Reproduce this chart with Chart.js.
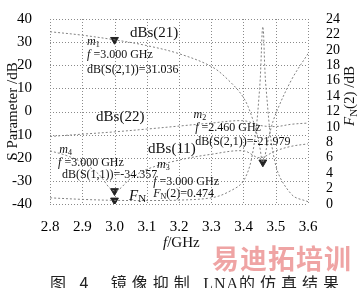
<!DOCTYPE html>
<html>
<head>
<meta charset="utf-8">
<script src="https://cdn.jsdelivr.net/npm/chart.js@4"></script>
<style>
  body { margin: 0; background: #fff; }
  #wrap { position: relative; width: 361px; height: 288px; overflow: hidden; }
  #caption { position: absolute; left: 50px; top: 270px; font: 16px "Noto Sans CJK SC"; letter-spacing: 5px; color: #222; white-space: nowrap; }
  #caption .lat { font-family: "Liberation Serif"; letter-spacing: 1px; }
  #wm { position: absolute; left: 212px; top: 238px; font: bold 27px "Noto Sans CJK SC"; color: rgba(225,90,90,0.55); letter-spacing: 1px; }
</style>
</head>
<body>
<div id="wrap">
  <canvas id="myChart" width="361" height="288"></canvas>
  <div id="wm">易迪拓培训</div>
  <div id="caption">图 4&nbsp; 镜像抑制 <span class="lat">LNA</span>的仿真结果</div>
</div>
<script>
// x ticks / axis ranges
const freqTicks = [2.8, 2.9, 3.0, 3.1, 3.2, 3.3, 3.4, 3.5, 3.6];
const sTicks = [-40, -30, -20, -10, 0, 10, 20, 30, 40];
const fnTicks = [0, 2, 4, 6, 8, 10, 12, 14, 16, 18, 20, 22, 24];

// dBs(21)
const freq21 = [2.8, 2.9, 3.0, 3.1, 3.2, 3.3, 3.35, 3.4, 3.43, 3.45, 3.46, 3.48, 3.5, 3.55, 3.6];
const s21 = [34.5, 33, 31, 28.5, 25, 19.5, 14, 6, -4, -15, -22, -10, -1, 14, 25];
// dBs(22)
const freq22 = [2.8, 2.9, 3.0, 3.1, 3.2, 3.3, 3.4, 3.45, 3.5, 3.55, 3.6];
const s22 = [-10.8, -9.8, -8.8, -7.6, -6.3, -5, -4, -6, -6.5, -5.5, -5];
// dBs(11)
const freq11 = [2.8, 2.85, 2.9, 2.95, 3.0, 3.05, 3.1, 3.2, 3.3, 3.4, 3.45, 3.5, 3.55, 3.6];
const s11 = [-17, -19, -22, -27, -34.357, -29, -25, -21, -18.5, -17, -20, -17, -15, -14];
// FN(2), right axis
const freqFn = [2.8, 2.9, 3.0, 3.1, 3.2, 3.3, 3.35, 3.4, 3.43, 3.45, 3.46, 3.47, 3.5, 3.55, 3.6];
const fn = [0.8, 0.6, 0.474, 0.45, 0.5, 0.8, 1.5, 3, 7, 15, 23, 15, 5, 1.2, 0.3];

// markers
const m1 = { x: 3.0, y: 31.036 };
const m2 = { x: 3.46, y: -21.979 };
const m4 = { x: 3.0, y: -34.357 };
const m3 = { x: 3.0, y: 0.474 };

const serif = '"Liberation Serif", "DejaVu Serif", serif';

function pts(xs, ys) {
  return xs.map((x, i) => ({ x: x, y: ys[i] }));
}

function curve(label, xs, ys, axis) {
  return {
    label: label,
    data: pts(xs, ys),
    yAxisID: axis,
    showLine: true,
    borderColor: '#808080',
    borderWidth: 1,
    borderDash: [2, 2],
    pointRadius: 0,
    tension: 0.35,
    fill: false,
  };
}

function marker(label, p, axis) {
  return {
    label: label,
    data: [p],
    yAxisID: axis,
    showLine: false,
    pointStyle: 'triangle',
    rotation: 180,
    pointRadius: 4.5,
    backgroundColor: '#222',
    borderColor: '#222',
  };
}

// rich text: segments [{t, it, sub}]
function drawRich(ctx, x, y, segs, size) {
  let cx = x;
  segs.forEach((s) => {
    const sz = s.sub ? Math.round(size * 0.7) : size;
    ctx.font = (s.it ? 'italic ' : '') + sz + 'px ' + serif;
    ctx.fillText(s.t, cx, s.sub ? y + size * 0.25 : y);
    cx += ctx.measureText(s.t).width;
  });
}

const labels = [
  { x: 3.048, y: 33.9, size: 15, segs: [{ t: 'dBs(21)' }] },
  { x: 2.915, y: 30.0, size: 12, segs: [{ t: 'm', it: true }, { t: '1', sub: true }] },
  { x: 2.915, y: 24.6, size: 12, segs: [{ t: 'f', it: true }, { t: ' =3.000 GHz' }] },
  { x: 2.915, y: 18.1, size: 12, segs: [{ t: 'dB(S(2,1))=31.036' }] },
  { x: 2.943, y: -2.2, size: 15, segs: [{ t: 'dBs(22)' }] },
  { x: 3.245, y: -1.5, size: 12, segs: [{ t: 'm', it: true }, { t: '2', sub: true }] },
  { x: 3.25, y: -7.2, size: 12, segs: [{ t: 'f', it: true }, { t: ' =2.460 GHz' }] },
  { x: 3.25, y: -13.3, size: 12, segs: [{ t: 'dB(S(2,1))=-21.979' }] },
  { x: 3.104, y: -16.1, size: 15, segs: [{ t: 'dBs(11)' }] },
  { x: 2.829, y: -16.4, size: 12, segs: [{ t: 'm', it: true }, { t: '4', sub: true }] },
  { x: 2.825, y: -22.3, size: 12, segs: [{ t: 'f', it: true }, { t: ' =3.000 GHz' }] },
  { x: 2.837, y: -27.4, size: 12, segs: [{ t: 'dB(S(1,1))=-34.357' }] },
  { x: 3.132, y: -23.2, size: 12, segs: [{ t: 'm', it: true }, { t: '3', sub: true }] },
  { x: 3.12, y: -30.3, size: 12, segs: [{ t: 'f', it: true }, { t: ' =3.000 GHz' }] },
  { x: 3.12, y: -35.6, size: 12, segs: [{ t: 'F', it: true }, { t: 'N', sub: true }, { t: '(2)=0.474' }] },
  { x: 3.045, y: -36.4, size: 15, segs: [{ t: 'F', it: true }, { t: 'N', sub: true }] },
];

// dotted grid + frame, drawn under the curves
const gridPlugin = {
  id: 'dotgrid',
  beforeDatasetsDraw(chart) {
    const c = chart.ctx;
    const a = chart.chartArea;
    const xs = chart.scales.x;
    const ys = chart.scales.y;
    c.save();
    c.strokeStyle = '#8a8a8a';
    c.lineWidth = 1;
    c.setLineDash([1, 2]);
    c.beginPath();
    freqTicks.forEach((v) => {
      const px = Math.round(xs.getPixelForValue(v)) + 0.5;
      c.moveTo(px, a.top);
      c.lineTo(px, a.bottom);
    });
    sTicks.forEach((v) => {
      const py = Math.round(ys.getPixelForValue(v)) + 0.5;
      c.moveTo(a.left, py);
      c.lineTo(a.right, py);
    });
    c.stroke();
    c.restore();
  },
};

const textPlugin = {
  id: 'texts',
  afterDraw(chart) {
    const c = chart.ctx;
    const a = chart.chartArea;
    const xs = chart.scales.x;
    const ys = chart.scales.y;
    c.save();
    c.fillStyle = '#111';
    c.textBaseline = 'middle';
    c.textAlign = 'left';
    labels.forEach((l) => {
      drawRich(c, xs.getPixelForValue(l.x), ys.getPixelForValue(l.y), l.segs, l.size);
    });
    // axis titles
    drawRich(c, 163, 243, [{ t: 'f', it: true }, { t: '/GHz' }], 15);
    c.save();
    c.translate(13, (a.top + a.bottom) / 2);
    c.rotate(-Math.PI / 2);
    c.textAlign = 'center';
    c.font = '15px ' + serif;
    c.fillText('S Parameter /dB', 0, 0);
    c.restore();
    c.save();
    c.translate(350, 100);
    c.rotate(-Math.PI / 2);
    drawRich(c, -26, 0, [{ t: 'F', it: true }, { t: 'N', sub: true }, { t: '(2) /dB' }], 15);
    c.restore();
    c.restore();
  },
};

const ctx = document.getElementById('myChart');

new Chart(ctx, {
  type: 'scatter',
  data: {
    datasets: [
      curve('dBs(21)', freq21, s21, 'y'),
      curve('dBs(22)', freq22, s22, 'y'),
      curve('dBs(11)', freq11, s11, 'y'),
      curve('FN(2)', freqFn, fn, 'y2'),
      marker('m1', m1, 'y'),
      marker('m2', m2, 'y'),
      marker('m4', m4, 'y'),
      marker('m3', m3, 'y2'),
    ],
  },
  options: {
    responsive: false,
    animation: false,
    devicePixelRatio: 1,
    layout: { padding: { top: 7, left: 0, right: 0, bottom: 0 } },
    plugins: { legend: { display: false }, tooltip: { enabled: false } },
    scales: {
      x: {
        type: 'linear',
        min: 2.8,
        max: 3.6,
        afterBuildTicks: (s) => { s.ticks = freqTicks.map((v) => ({ value: v })); },
        afterFit: (s) => { s.height = 84; },
        ticks: { autoSkip: false, maxRotation: 0, padding: 6, color: '#000', font: { family: serif, size: 15 }, callback: (v) => v.toFixed(1) },
        grid: { display: false },
        border: { display: false },
      },
      y: {
        position: 'left',
        min: -40,
        max: 40,
        afterBuildTicks: (s) => { s.ticks = sTicks.map((v) => ({ value: v })); },
        afterFit: (s) => { s.width = 50; },
        ticks: { autoSkip: false, padding: 10, color: '#000', font: { family: serif, size: 15 } },
        grid: { display: false },
        border: { display: false },
      },
      y2: {
        position: 'right',
        min: 0,
        max: 24,
        afterBuildTicks: (s) => { s.ticks = fnTicks.map((v) => ({ value: v })); },
        afterFit: (s) => { s.width = 53; },
        ticks: { autoSkip: false, padding: 10, color: '#000', font: { family: serif, size: 14 } },
        grid: { display: false },
        border: { display: false },
      },
    },
  },
  plugins: [gridPlugin, textPlugin],
});
</script>
</body>
</html>
